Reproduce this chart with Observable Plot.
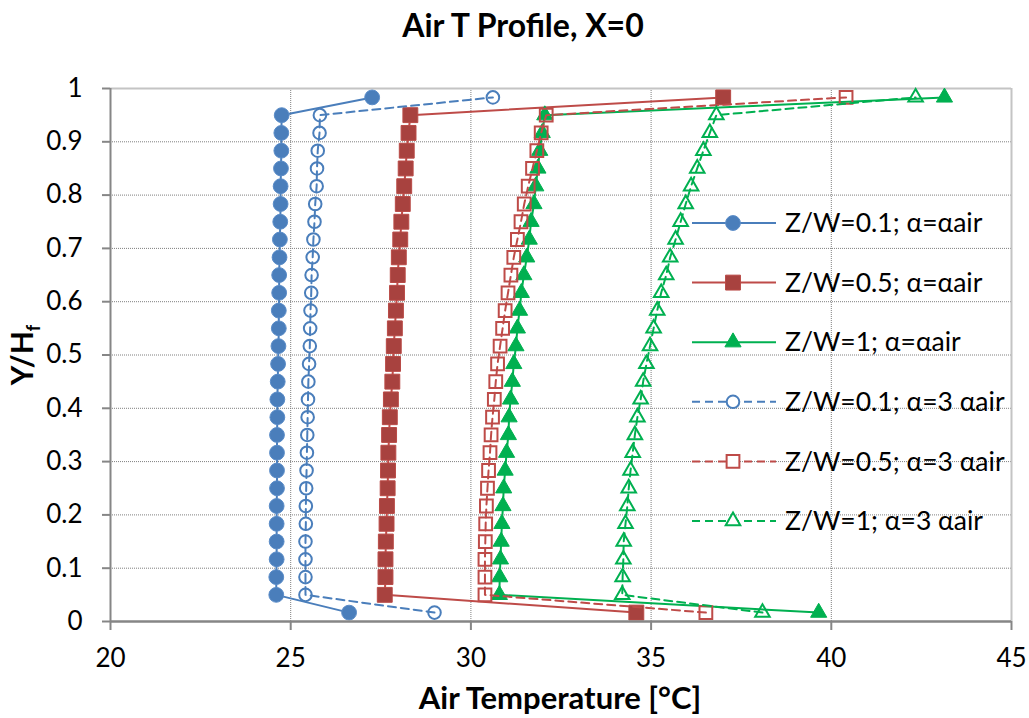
<!DOCTYPE html>
<html><head><meta charset="utf-8">
<script src="https://cdn.jsdelivr.net/npm/d3@7"></script>
<script src="https://cdn.jsdelivr.net/npm/@observablehq/plot@0.6"></script>
<style>
body{margin:0;background:#fff;}
#chart svg{display:block;}
</style></head><body><div id="chart"></div>
<script>
// Vertical positions Y/Hf (bottom to top)
const yPos = [0.0167,0.05,0.0833,0.1167,0.15,0.1833,0.2167,0.25,0.2833,0.3167,0.35,0.3833,0.4167,0.45,0.4833,0.5167,0.55,0.5833,0.6167,0.65,0.6833,0.7167,0.75,0.7833,0.8167,0.85,0.8833,0.9167,0.95,0.9833];

// Air temperature [°C] per series (bottom to top)
const zw01_a1 = [26.62,24.60,24.60,24.61,24.61,24.61,24.61,24.62,24.62,24.62,24.62,24.63,24.63,24.64,24.65,24.66,24.67,24.67,24.68,24.68,24.69,24.70,24.71,24.72,24.72,24.73,24.74,24.74,24.75,27.26];
const zw05_a1 = [34.59,27.61,27.63,27.63,27.64,27.66,27.67,27.69,27.70,27.71,27.73,27.75,27.78,27.82,27.84,27.86,27.89,27.92,27.95,27.97,28.00,28.04,28.07,28.11,28.15,28.19,28.22,28.27,28.32,37.00];
const zw1_a1  = [39.65,30.79,30.80,30.82,30.84,30.86,30.89,30.91,30.95,30.99,31.04,31.06,31.10,31.15,31.19,31.25,31.29,31.35,31.40,31.47,31.55,31.62,31.67,31.75,31.80,31.86,31.91,31.98,32.05,43.14];
const zw01_a3 = [28.99,25.41,25.41,25.41,25.41,25.42,25.42,25.43,25.44,25.45,25.46,25.47,25.48,25.49,25.51,25.53,25.54,25.55,25.57,25.58,25.61,25.63,25.66,25.68,25.72,25.73,25.75,25.80,25.81,30.61];
const zw05_a3 = [36.52,30.39,30.39,30.39,30.40,30.41,30.43,30.46,30.49,30.53,30.56,30.60,30.65,30.69,30.74,30.81,30.88,30.95,31.03,31.11,31.19,31.29,31.39,31.48,31.59,31.71,31.83,31.95,32.09,40.41];
const zw1_a3  = [38.09,34.20,34.21,34.23,34.24,34.29,34.34,34.38,34.43,34.49,34.55,34.62,34.71,34.78,34.87,34.97,35.07,35.17,35.28,35.42,35.53,35.68,35.82,35.96,36.11,36.28,36.45,36.63,36.81,42.34];

const seriesNames = ["Z/W=0.1; α=αair","Z/W=0.5; α=αair","Z/W=1; α=αair","Z/W=0.1; α=3 αair","Z/W=0.5; α=3 αair","Z/W=1; α=3 αair"];
const seriesValues = [zw01_a1, zw05_a1, zw1_a1, zw01_a3, zw05_a3, zw1_a3];

const xTicks = [20,25,30,35,40,45];
const yTicks = [0,0.1,0.2,0.3,0.4,0.5,0.6,0.7,0.8,0.9,1];

const titleText = "Air T Profile, X=0";
const xLabel = "Air Temperature [°C]";

const styles = [
  {color:"#4a7ebb", fill:"#4a7ebb", edge:"#5a8cc8", symbol:"circle",   r:7.4, open:false, dash:null},
  {color:"#be4b48", fill:"#a8423f", edge:"#b94a46", symbol:"square",   r:8.4, open:false, dash:null},
  {color:"#00b050", fill:"#00b050", edge:"#00b050", symbol:"triangle", r:6.0, open:false, dash:null},
  {color:"#4a7ebb", fill:"none",    edge:"#4a7ebb", symbol:"circle",   r:6.3, open:true,  dash:"8,5"},
  {color:"#be4b48", fill:"none",    edge:"#be4b48", symbol:"square",   r:7.2, open:true,  dash:"8,5"},
  {color:"#00b050", fill:"none",    edge:"#00b050", symbol:"triangle", r:5.4, open:true,  dash:"8,5"}
];

const seriesMarks = [];
seriesValues.forEach((vals, k) => {
  const s = styles[k];
  const rows = yPos.map((y, i) => ({x: vals[i], y, series: seriesNames[k]}));
  seriesMarks.push(Plot.line(rows, {x:"x", y:"y", stroke:s.color, strokeWidth:2, strokeDasharray:s.dash}));
  seriesMarks.push(Plot.dot(rows, {x:"x", y:"y", symbol:s.symbol, r:s.r, fill:s.fill, stroke:s.edge, strokeWidth:s.open?2:1}));
});

const W = 1029, H = 718;
const plot = Plot.plot({
  width: W, height: H,
  marginTop: 88, marginBottom: 97, marginLeft: 110, marginRight: 18,
  style: {fontFamily:"Lato", fontSize:"26px", color:"black", background:"white", overflow:"visible"},
  x: {domain:[20,45]},
  y: {domain:[0,1]},
  marks: [
    Plot.ruleX(xTicks.slice(1,-1), {stroke:"#7f7f7f", strokeWidth:1, strokeDasharray:"1,1"}),
    Plot.ruleY(yTicks.slice(1,-1), {stroke:"#7f7f7f", strokeWidth:1, strokeDasharray:"1,1"}),
    Plot.ruleY([1], {stroke:"#c4c4c4", strokeWidth:2}),
    Plot.ruleX([45], {stroke:"#c4c4c4", strokeWidth:2}),
    ...seriesMarks,
    Plot.ruleX([20], {stroke:"#868686", strokeWidth:2}),
    Plot.ruleY([0], {stroke:"#868686", strokeWidth:2.5}),
    Plot.axisY({ticks:yTicks, tickSize:8, tickPadding:20, stroke:"#868686", strokeWidth:2, tickFormat:d=>String(d), label:null}),
    Plot.axisX({ticks:xTicks, tickSize:9, tickPadding:18, stroke:"#868686", strokeWidth:2, tickFormat:d=>String(d), label:null})
  ]
});
document.getElementById("chart").appendChild(plot);

const svg = d3.select(plot);
// Title
svg.append("text").attr("x",523).attr("y",37).attr("text-anchor","middle")
  .attr("font-family","Lato").attr("font-weight","bold").attr("font-size",32).attr("fill","black").text(titleText);
// X label
svg.append("text").attr("x",560).attr("y",709).attr("text-anchor","middle")
  .attr("font-family","Lato").attr("font-weight","bold").attr("font-size",31).attr("fill","black").text(xLabel);
// Y label with subscript
const yl = svg.append("text").attr("transform","translate(33,355) rotate(-90)").attr("text-anchor","middle")
  .attr("font-family","Lato").attr("font-weight","bold").attr("font-size",30).attr("fill","black");
yl.append("tspan").text("Y/H");
yl.append("tspan").attr("font-size",18).attr("dy",7).text("f");

// Legend
const symMap = {circle:d3.symbolCircle, square:d3.symbolSquare, triangle:d3.symbolTriangle};
const lg = svg.append("g").attr("font-family","Lato").attr("font-size",26.5).attr("text-anchor","start");
seriesNames.forEach((name, i) => {
  const s = styles[i];
  const cy = 223 + i*59.6;
  lg.append("line").attr("x1",692).attr("x2",776).attr("y1",cy).attr("y2",cy)
    .attr("stroke",s.color).attr("stroke-width",2).attr("stroke-dasharray",s.dash);
  lg.append("path").attr("transform",`translate(733,${cy})`)
    .attr("d", d3.symbol(symMap[s.symbol], Math.PI*s.r*s.r)())
    .attr("fill", s.open ? "white" : s.fill).attr("stroke", s.edge).attr("stroke-width", s.open?2:1);
  lg.append("text").attr("x",785).attr("y",cy).attr("dy","0.35em").attr("text-anchor","start").attr("fill","black").text(name);
});
</script></body></html>
